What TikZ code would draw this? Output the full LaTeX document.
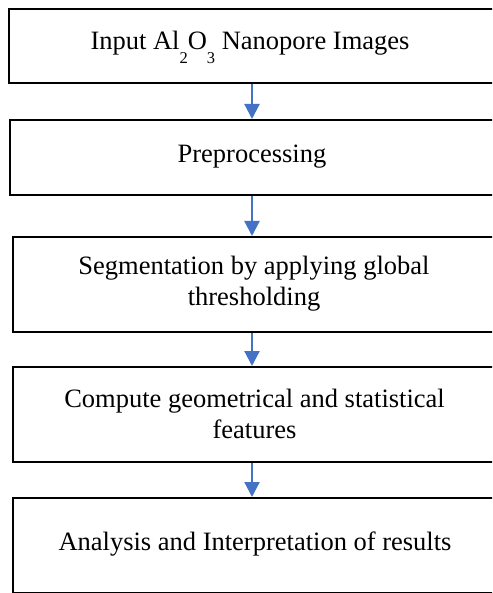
\documentclass[tikz,border=0pt]{standalone}
\usepackage{fontspec}
\setmainfont{Liberation Serif}
\usetikzlibrary{arrows.meta}
\definecolor{flowblue}{RGB}{68,114,196}
\newcommand{\lowsub}[1]{\raisebox{-0.52em}{\fontsize{16.5}{16.5}\selectfont #1}}
\tikzset{box/.style = {draw, line width = 2.2, anchor = north west, minimum width = 560, inner sep = 0}}
\tikzset{txt/.style = {align = center, font = \fontsize{26.5}{31}\selectfont, inner sep = 0}}
\tikzset{flow/.style = {draw = flowblue, line width = 2.2, -{Triangle[width = 15, length = 15]}}}

\begin{document}
\begin{tikzpicture}[x = 1pt, y = -1pt]
          \useasboundingbox (0, 0) rectangle (492, 593);
          \clip (0, 0) rectangle (492, 593);

          \coordinate (ax) at (252, 0);

          \node [box, minimum height = 74] (inp) at (7.5, 8) {};
          \node [box, minimum height = 75] (pre) at (8.5, 119) {};
          \node [box, minimum height = 95] (seg) at (12, 236) {};
          \node [box, minimum height = 95] (feat) at (12, 366) {};
          \node [box, minimum height = 95] (res) at (12, 497) {};

          \node [txt, anchor = base] (inptxt) at (250, 50) {Input Al\lowsub{2}O\lowsub{3} Nanopore Images};
          \node [txt] (pretxt) at (252, 156.5) {Preprocessing};
          \node [txt] (segtxt) at (254, 283.5) {Segmentation by applying global\\thresholding};
          \node [txt] (feattxt) at (254.5, 413.5) {Compute geometrical and statistical\\features};
          \node [txt] (restxt) at (255, 544.5) {Analysis and Interpretation of results};

          \draw [flow] (inp.south -| ax) -- (pre.north -| ax);
          \draw [flow] (pre.south -| ax) -- (seg.north -| ax);
          \draw [flow] (seg.south -| ax) -- (feat.north -| ax);
          \draw [flow] (feat.south -| ax) -- (res.north -| ax);
        \end{tikzpicture}
\end{document}
